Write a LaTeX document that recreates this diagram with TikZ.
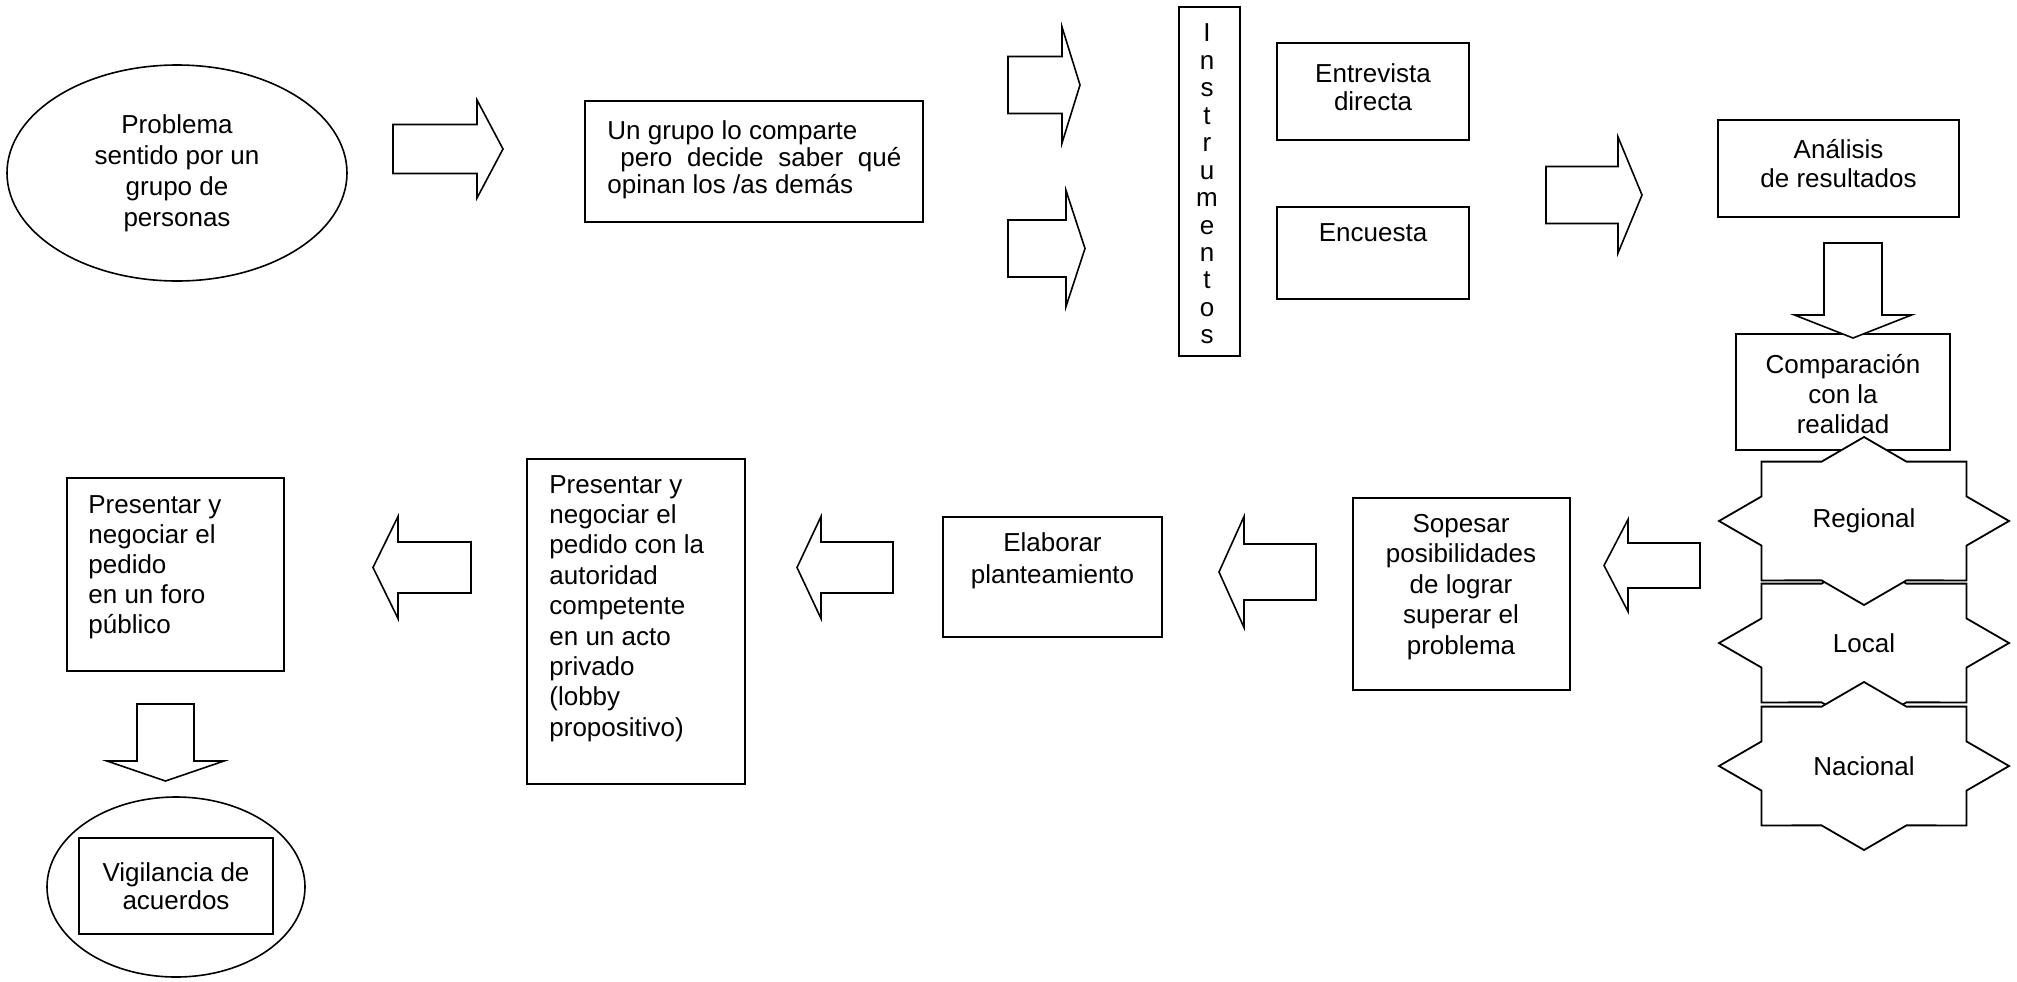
\documentclass[tikz,border=0pt]{standalone}
\usepackage{fontspec}
\setmainfont{Liberation Sans}
\usetikzlibrary{shapes.geometric}
\begin{document}
\begin{tikzpicture}[
    x=0.5pt, y=-0.5pt,
    every node/.style={font=\fontsize{13}{15}\selectfont, align=center, inner sep=0pt},
    box/.style={draw, line width=1.1pt, fill=white},
    oval/.style={draw, ellipse, line width=0.8pt},
    arrowline/.style={draw, line width=0.8pt, fill=white},
    pics/fatarrow/.style n args={4}{code={
        \path[arrowline] (0,-#3) -- ({#1-#2},-#3) -- ({#1-#2},-#4) -- (#1,0)
            -- ({#1-#2},#4) -- ({#1-#2},#3) -- (0,#3) -- cycle;}},
    pics/starburst/.style={code={
        \path[box, line width=0.9pt] plot[samples at={0,...,15}]
            ({145*(1-0.235*mod(\x,2))*cos(22.5*\x)}, {84*(1-0.235*mod(\x,2))*sin(22.5*\x)}) -- cycle;}}]
\useasboundingbox (0,0) rectangle (2017,981);

% top row
\node[oval, minimum width=170pt, minimum height=108pt, font=\fontsize{13}{15.5}\selectfont] (prob) at (177,173)
    {Problema\\sentido por un\\grupo de\\personas};
\pic at (393,149) {fatarrow={110}{26}{24.5}{49}};
\node[box, minimum width=169pt, minimum height=60.5pt] (grupo) at (754,161.5) {};
\node[anchor=west, align=left, font=\fontsize{13}{13.5}\selectfont] (grupo-t) at (607,160)
    {Un grupo lo comparte\\\hspace*{6.5pt}\makebox[140.5pt][s]{pero decide saber qué}\\opinan los /as demás};
\pic at (1008,85) {fatarrow={72}{18}{28.5}{58}};
\pic at (1008,248.5) {fatarrow={77}{19}{28.5}{58}};

% instruments
\node[box, minimum width=30.5pt, minimum height=174.5pt] (instr) at (1209.5,181.5) {};
\node[font=\fontsize{13}{13.73}\selectfont] (instr-t) at (1207,184) {I\\n\\s\\t\\r\\u\\m\\e\\n\\t\\o\\s};
\node[box, minimum width=96pt, minimum height=48.5pt] (entrev) at (1373,91.5) {};
\node[font=\fontsize{13}{14}\selectfont] (entrev-t) at (1373,87) {Entrevista\\directa};
\node[box, minimum width=96pt, minimum height=46pt] (enc) at (1373,253) {};
\node (enc-t) at (1373,233) {Encuesta};
\pic at (1546,195) {fatarrow={96}{24}{28.5}{58}};
\node[box, minimum width=120.5pt, minimum height=48.5pt] (anal) at (1838.5,168.5) {};
\node[font=\fontsize{13}{14.5}\selectfont] (anal-t) at (1838.5,164) {Análisis\\de resultados};

% right column
\node[box, minimum width=107pt, minimum height=58pt, font=\fontsize{13}{15}\selectfont] (comp) at (1843,392) {};
\node[font=\fontsize{13}{15}\selectfont] (comp-t) at (1843,394) {Comparación\\con la\\realidad};
\pic[rotate=-90] at (1853,243) {fatarrow={95}{23}{29}{58.5}};
\pic at (1864,643) {starburst};
\node (loc) at (1864,643) {Local};
\pic at (1864,521) {starburst};
\node (reg) at (1864,521) {Regional};
\pic at (1864,766) {starburst};
\node (nac) at (1864,766) {Nacional};

% bottom row, right to left
\pic[rotate=180] at (1700,565.5) {fatarrow={96}{24}{22.5}{46}};
\node[box, minimum width=108.5pt, minimum height=96pt] (sop) at (1461.5,594) {};
\node[font=\fontsize{13}{15.25}\selectfont] (sop-t) at (1461,587)
    {Sopesar\\posibilidades\\de lograr\\superar el\\problema};
\pic[rotate=180] at (1316,572) {fatarrow={97}{25}{28}{55.5}};
\node[box, minimum width=109.5pt, minimum height=60pt] (elab) at (1052.5,577) {};
\node[font=\fontsize{13}{16}\selectfont] (elab-t) at (1052.5,561) {Elaborar\\planteamiento};
\pic[rotate=180] at (893,567.5) {fatarrow={96}{24}{25.5}{51}};
\node[box, minimum width=109pt, minimum height=162.5pt] (lobby) at (636,621.5) {};
\node[anchor=west, align=left, font=\fontsize{13}{15.2}\selectfont] (lobby-t) at (549,608.5)
    {Presentar y\\negociar el\\pedido con la\\autoridad\\competente\\en un acto\\privado\\(lobby\\propositivo)};
\pic[rotate=180] at (471,567.5) {fatarrow={98}{25}{25.5}{51}};
\node[box, minimum width=108.5pt, minimum height=96.5pt] (foro) at (175.5,574.5) {};
\node[anchor=west, align=left] (foro-t) at (88,567)
    {Presentar y\\negociar el\\pedido\\en un foro\\público};

% end
\pic[rotate=-90] at (165.5,704) {fatarrow={77}{20}{28.5}{58.5}};
\node[oval, minimum width=129pt, minimum height=90pt] (vig) at (176,887) {};
\node[box, minimum width=97pt, minimum height=48pt, font=\fontsize{13}{14}\selectfont] (vig-b) at (176,886)
    {Vigilancia de\\acuerdos};
\end{tikzpicture}
\end{document}
